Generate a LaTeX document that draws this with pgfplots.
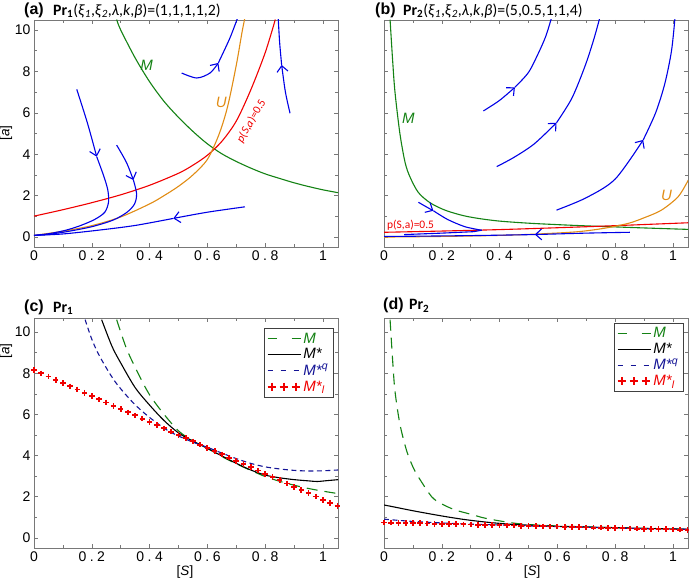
\documentclass[border=0pt]{standalone}
\usepackage{fontspec}
\setmainfont{Liberation Sans}
\newfontfamily\calib{Carlito}
\usepackage{pgfplots}
\pgfplotsset{compat=1.18}
\usetikzlibrary{arrows.meta}
\definecolor{mgreen}{RGB}{20,130,20}
\definecolor{morange}{RGB}{225,140,20}
\definecolor{mblue}{RGB}{0,0,230}
\definecolor{mnavy}{RGB}{20,20,150}
\definecolor{mred}{RGB}{240,0,0}
\definecolor{mframe}{RGB}{120,120,120}
\newcommand{\dd}[1]{0\kern3.5pt.\kern3.5pt#1}
\pgfplotsset{
  panel/.style={scale only axis, width=304pt, xmin=0, xmax=1.052,
    xtick={0,0.2,0.4,0.6,0.8,1}, minor xtick={0.1,0.3,0.5,0.7,0.9},
    xticklabels={0,\dd{2},\dd{4},\dd{6},\dd{8},1},
    ytick={0,2,4,6,8,10}, minor ytick={1,3,5,7,9},
    tick align=inside, major tick length=4pt, minor tick length=3pt,
    axis line style={mframe}, tick style={mframe, line width=0.5pt},
    ticklabel style={font=\fontsize{14}{15}\selectfont},
    /pgf/number format/assume math mode=true,
    every axis plot/.append style={line width=1.1pt}},
  top/.style={panel, height=227pt, ymin=-0.48, ymax=10.48},
  bot/.style={panel, height=230pt, ymin=-0.49, ymax=10.68},
  ah/.style={mblue, smooth, -{Straight Barb[length=6pt,width=11pt]}},
  tr/.style={mblue, smooth},
  lin/.style={legend image code/.code={\draw[##1] (0pt,0pt) -- (33pt,0pt);}},
  glin/.style={legend image code/.code={\draw[mgreen, line width=1.1pt] (0pt,0pt) -- (9pt,0pt) (24pt,0pt) -- (33pt,0pt);}},
  blin/.style={legend image code/.code={\draw[mnavy, line width=1.1pt] (0pt,0pt) -- (7pt,0pt) (13pt,0pt) -- (20pt,0pt) (26pt,0pt) -- (33pt,0pt);}},
  pluslegend/.style={legend image code/.code={
    \draw[mred, line width=2pt, mark=+, mark size=4pt] plot[only marks] coordinates {(4pt,0pt) (16pt,0pt) (28pt,0pt)};}},
  leg/.style={legend style={at={(0.984,#1)}, anchor=north east, draw=black!75, line width=0.6pt,
    font=\fontsize{15}{16}\selectfont, row sep=0pt, inner sep=2.5pt, cells={anchor=west}}}
}
\begin{document}
\begin{tikzpicture}
\path[use as bounding box] (0,0) rectangle (689pt,579pt);
% ---------------- (a)
\begin{axis}[top, at={(34pt,332pt)}, anchor=south west]
\addplot[mgreen, smooth] coordinates {(0.286,10.5)(0.3,10.0)(0.35,8.65)(0.4,7.5)(0.45,6.55)(0.5,5.78)(0.55,5.1)(0.6,4.5)(0.65,4.02)(0.7,3.65)(0.75,3.33)(0.8,3.05)(0.85,2.83)(0.9,2.62)(0.95,2.44)(1.0,2.28)(1.053,2.14)};
\addplot[mred, smooth] coordinates {(0,1.01)(0.1,1.32)(0.2,1.66)(0.3,2.04)(0.4,2.5)(0.5,3.08)(0.55,3.47)(0.6,3.95)(0.65,4.62)(0.7,5.6)(0.75,7.1)(0.8,8.9)(0.835,10.5)};
\addplot[morange, smooth] coordinates {(0,0.08)(0.1,0.28)(0.2,0.55)(0.3,0.97)(0.4,1.6)(0.45,2.0)(0.5,2.45)(0.55,3.0)(0.6,3.75)(0.64,4.95)(0.67,6.3)(0.7,8.3)(0.72,9.9)(0.73,10.6)};
\addplot[ah] coordinates {(0.148,7.13)(0.185,5.5)(0.217,3.88)};
\addplot[tr] coordinates {(0.217,3.88)(0.24,3.0)(0.255,2.3)(0.258,1.7)(0.245,1.2)(0.21,0.85)(0.160,0.55)(0.11,0.33)(0.055,0.17)(0,0.08)};
\addplot[ah] coordinates {(0.286,4.44)(0.32,3.6)(0.344,2.75)};
\addplot[tr] coordinates {(0.344,2.75)(0.355,2.1)(0.348,1.6)(0.322,1.2)(0.274,0.82)(0.2,0.5)(0.113,0.26)(0.05,0.13)(0,0.08)};
\addplot[ah] coordinates {(0.730,1.46)(0.6,1.2)(0.482,0.90)};
\addplot[tr] coordinates {(0.482,0.90)(0.35,0.56)(0.228,0.34)(0.1,0.15)(0,0.08)};
\addplot[ah] coordinates {(0.511,7.92)(0.563,7.68)(0.609,7.92)(0.638,8.41)};
\addplot[tr] coordinates {(0.638,8.41)(0.678,9.61)(0.705,10.6)};
\addplot[ah] coordinates {(0.886,5.98)(0.87,7.0)(0.857,8.31)};
\addplot[tr] coordinates {(0.857,8.31)(0.85,9.4)(0.845,10.6)};
\node[mgreen, font=\fontsize{15}{16}\selectfont\itshape] at (axis cs:0.39,8.31) {M};
\node[morange, font=\fontsize{15}{16}\selectfont\itshape] at (axis cs:0.648,6.5) {U};
\node[mred, rotate=60, font=\calib\fontsize{11.5}{12}\selectfont] at (axis cs:0.752,5.6) {\textit{p}(\textit{S},\textit{a})=0.5};
\end{axis}
% ---------------- (b)
\begin{axis}[top, at={(384pt,332pt)}, anchor=south west, yticklabels={}]
\addplot[mgreen, smooth] coordinates {(0.021,10.5)(0.03,8.5)(0.038,7.0)(0.055,5.0)(0.073,3.6)(0.09,2.9)(0.119,2.15)(0.16,1.65)(0.211,1.3)(0.27,1.05)(0.326,0.9)(0.4,0.77)(0.5,0.67)(0.6,0.6)(0.7,0.54)(0.8,0.49)(0.9,0.44)(1.053,0.37)};
\addplot[mred, smooth] coordinates {(0,0.23)(0.2,0.29)(0.4,0.36)(0.6,0.45)(0.8,0.55)(1.053,0.69)};
\addplot[morange, smooth] coordinates {(0,0.0)(0.2,0.03)(0.4,0.08)(0.55,0.16)(0.672,0.26)(0.76,0.42)(0.845,0.66)(0.9,0.93)(0.96,1.3)(1.018,1.95)(1.053,2.75)};
\addplot[ah] coordinates {(0.119,1.68)(0.145,1.47)(0.171,1.27)};
\addplot[tr] coordinates {(0.171,1.27)(0.22,0.85)(0.28,0.5)(0.338,0.33)};
\addplot[mblue] coordinates {(0.338,0.33)(0.31,0.26)(0.2,0.19)(0.07,0.12)};
\addplot[ah] coordinates {(0.851,0.23)(0.7,0.19)(0.522,0.12)};
\addplot[tr] coordinates {(0.522,0.12)(0.3,0.07)(0.1,0.04)(0,0.03)};
\addplot[ah] coordinates {(0.344,6.09)(0.40,6.6)(0.453,7.23)};
\addplot[tr] coordinates {(0.453,7.23)(0.50,7.95)(0.534,8.87)(0.56,9.7)(0.580,10.6)};
\addplot[ah] coordinates {(0.390,3.40)(0.45,3.85)(0.52,4.5)(0.597,5.52)};
\addplot[tr] coordinates {(0.597,5.52)(0.65,6.7)(0.695,8.23)(0.725,9.5)(0.747,10.6)};
\addplot[ah] coordinates {(0.597,1.30)(0.7,1.9)(0.8,2.8)(0.897,4.69)};
\addplot[tr] coordinates {(0.897,4.69)(0.94,6.0)(0.972,7.42)(0.995,9.0)(1.007,10.6)};
\node[mgreen, font=\fontsize{15}{16}\selectfont\itshape] at (axis cs:0.084,5.73) {M};
\node[morange, font=\fontsize{15}{16}\selectfont\itshape] at (axis cs:0.978,2.03) {U};
\node[mred, anchor=west, inner sep=0pt, font=\calib\fontsize{11.5}{12}\selectfont] at (axis cs:0.01,0.55) {p(S,a)=0.5};
\end{axis}
% ---------------- (c)
\begin{axis}[bot, at={(34pt,31pt)}, anchor=south west, leg=0.957]
\addplot[mgreen, dash pattern=on 11pt off 7pt, smooth, glin] coordinates {(0.286,10.6)(0.32,9.2)(0.36,8.0)(0.4,6.95)(0.45,6.0)(0.5,5.2)(0.55,4.7)(0.6,4.35)(0.65,3.95)(0.7,3.6)(0.75,3.28)(0.8,2.98)(0.85,2.75)(0.9,2.56)(0.95,2.4)(1.0,2.27)(1.053,2.15)};
\addlegendentry{\textcolor{mgreen}{\textit{M}}}
\addplot[black, smooth, lin] coordinates {(0.234,10.6)(0.27,9.3)(0.3,8.5)(0.35,7.3)(0.4,6.45)(0.45,5.7)(0.5,5.1)(0.55,4.7)(0.6,4.35)(0.65,3.98)(0.7,3.62)(0.75,3.3)(0.8,3.05)(0.85,2.92)(0.9,2.83)(0.95,2.77)(0.98,2.74)(1.013,2.78)(1.053,2.83)};
\addlegendentry{\textit{M*}}
\addplot[mnavy, dash pattern=on 5pt off 3.5pt, smooth, blin] coordinates {(0.177,10.6)(0.2,9.65)(0.228,8.8)(0.28,7.6)(0.344,6.55)(0.4,5.85)(0.459,5.25)(0.5,4.95)(0.55,4.65)(0.6,4.4)(0.65,4.12)(0.7,3.85)(0.75,3.62)(0.8,3.45)(0.85,3.35)(0.9,3.28)(0.95,3.25)(1.0,3.26)(1.053,3.3)};
\addlegendentry{\textcolor{mnavy}{\textit{M*}\textsuperscript{\textit{q}}}}
\addplot[mred, only marks, mark=+, mark size=2.8pt, line width=1.8pt, pluslegend] coordinates {(0,8.15)(0.025,7.99)(0.05,7.84)(0.075,7.68)(0.1,7.52)(0.125,7.36)(0.15,7.21)(0.175,7.05)(0.2,6.89)(0.225,6.73)(0.25,6.58)(0.275,6.42)(0.3,6.26)(0.325,6.10)(0.35,5.95)(0.375,5.79)(0.4,5.63)(0.425,5.47)(0.45,5.32)(0.475,5.16)(0.5,5.00)(0.525,4.84)(0.55,4.69)(0.575,4.53)(0.6,4.37)(0.625,4.21)(0.65,4.06)(0.675,3.90)(0.7,3.74)(0.725,3.58)(0.75,3.43)(0.775,3.27)(0.8,3.11)(0.825,2.95)(0.85,2.80)(0.875,2.64)(0.9,2.48)(0.925,2.32)(0.95,2.17)(0.975,2.01)(1.0,1.85)(1.025,1.69)(1.05,1.54)};
\addlegendentry{\textcolor{mred}{\textit{M*}\textsubscript{\textit{l}}}}
\end{axis}
% ---------------- (d)
\begin{axis}[bot, at={(384pt,31pt)}, anchor=south west, yticklabels={}, leg=0.98]
\addplot[mgreen, dash pattern=on 11pt off 7pt, smooth, glin] coordinates {(0.021,10.6)(0.03,8.6)(0.038,7.13)(0.055,5.53)(0.078,4.25)(0.1,3.45)(0.119,2.96)(0.165,2.0)(0.2,1.65)(0.246,1.36)(0.3,1.15)(0.349,0.96)(0.42,0.78)(0.481,0.67)(0.6,0.58)(0.8,0.5)(1.053,0.42)};
\addlegendentry{\textcolor{mgreen}{\textit{M}}}
\addplot[black, smooth, lin] coordinates {(0,1.6)(0.05,1.46)(0.096,1.33)(0.15,1.19)(0.211,1.04)(0.27,0.91)(0.326,0.81)(0.38,0.73)(0.442,0.66)(0.5,0.62)(0.557,0.58)(0.65,0.54)(0.788,0.5)(0.9,0.46)(1.053,0.42)};
\addlegendentry{\textit{M*}}
\addplot[mnavy, dash pattern=on 5pt off 3.5pt, smooth, blin] coordinates {(0,0.91)(0.1,0.8)(0.211,0.72)(0.3,0.67)(0.4,0.63)(0.557,0.56)(0.7,0.52)(0.8,0.48)(0.9,0.45)(1.053,0.42)};
\addlegendentry{\textcolor{mnavy}{\textit{M*}\textsuperscript{\textit{q}}}}
\addplot[mred, only marks, mark=+, mark size=2.8pt, line width=1.8pt, pluslegend] coordinates {(0,0.75)(0.025,0.74)(0.05,0.73)(0.075,0.72)(0.1,0.72)(0.125,0.71)(0.15,0.70)(0.175,0.69)(0.2,0.68)(0.225,0.67)(0.25,0.67)(0.275,0.66)(0.3,0.65)(0.325,0.64)(0.35,0.63)(0.375,0.62)(0.4,0.61)(0.425,0.61)(0.45,0.60)(0.475,0.59)(0.5,0.58)(0.525,0.57)(0.55,0.56)(0.575,0.55)(0.6,0.55)(0.625,0.54)(0.65,0.53)(0.675,0.52)(0.7,0.51)(0.725,0.50)(0.75,0.50)(0.775,0.49)(0.8,0.48)(0.825,0.47)(0.85,0.46)(0.875,0.45)(0.9,0.44)(0.925,0.44)(0.95,0.43)(0.975,0.42)(1.0,0.41)(1.025,0.40)(1.05,0.39)};
\addlegendentry{\textcolor{mred}{\textit{M*}\textsubscript{\textit{l}}}}
\end{axis}
% ---------------- titles and labels
\node[anchor=west, inner sep=0pt, font=\bfseries\fontsize{16}{17}\selectfont] at (24pt,569pt) {(a)};
\node[anchor=west, inner sep=0pt, font=\calib\fontsize{15.8}{17}\selectfont] at (53pt,568pt) {\textbf{Pr\textsubscript{1}}(\textit{ξ}\textsubscript{\textit{1}},\textit{ξ}\textsubscript{\textit{2}},\textit{λ},\textit{k},\textit{β})=(1,1,1,1,2)};
\node[anchor=west, inner sep=0pt, font=\bfseries\fontsize{16}{17}\selectfont] at (375pt,569pt) {(b)};
\node[anchor=west, inner sep=0pt, font=\calib\fontsize{15.8}{17}\selectfont] at (403pt,568pt) {\textbf{Pr\textsubscript{2}}(\textit{ξ}\textsubscript{\textit{1}},\textit{ξ}\textsubscript{\textit{2}},\textit{λ},\textit{k},\textit{β})=(5,0.5,1,1,4)};
\node[anchor=west, inner sep=0pt, font=\bfseries\fontsize{16}{17}\selectfont] at (24pt,272pt) {(c)};
\node[anchor=west, inner sep=0pt, font=\calib\fontsize{15.8}{17}\selectfont] at (53pt,271pt) {\textbf{Pr\textsubscript{1}}};
\node[anchor=west, inner sep=0pt, font=\bfseries\fontsize{16}{17}\selectfont] at (383pt,274pt) {(d)};
\node[anchor=west, inner sep=0pt, font=\calib\fontsize{15.8}{17}\selectfont] at (409pt,273pt) {\textbf{Pr\textsubscript{2}}};
\node[rotate=90, font=\fontsize{13.5}{14}\selectfont] at (6pt,446pt) {[\textit{a}]};
\node[rotate=90, font=\fontsize{13.5}{14}\selectfont] at (6pt,228pt) {[\textit{a}]};
\node[font=\fontsize{13.5}{14}\selectfont] at (185pt,7pt) {[\textit{S}]};
\node[font=\fontsize{13.5}{14}\selectfont] at (532pt,7pt) {[\textit{S}]};
\end{tikzpicture}
\end{document}
